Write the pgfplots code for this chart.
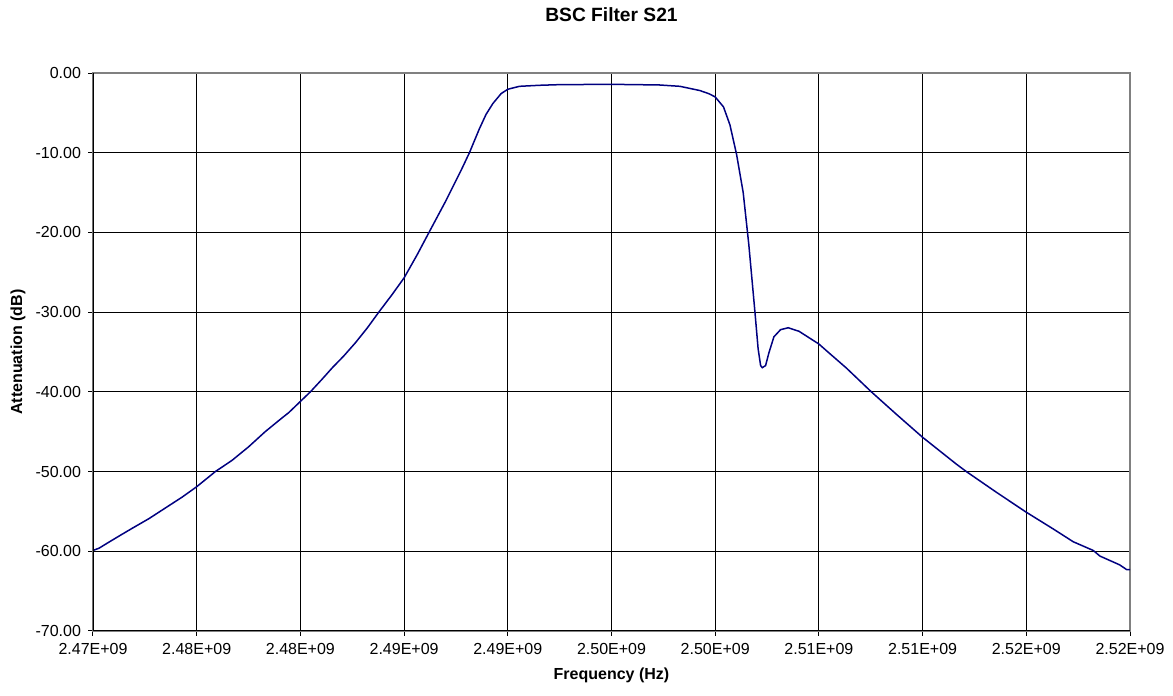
\documentclass[border=0pt]{standalone}
\usepackage{fontspec}
\setmainfont{Liberation Sans}
\usepackage{pgfplots}
\pgfplotsset{compat=1.18}
\definecolor{navy}{HTML}{000080}
\definecolor{plotframe}{HTML}{808080}

\begin{document}
\begin{tikzpicture}
\useasboundingbox (-46.5pt,-32.5pt) rectangle (540pt,315.5pt);
\begin{axis}[
  scale only axis, width=518.5pt, height=279pt,
  xmin=2470, xmax=2520, ymin=-70, ymax=0,
  xtick={2470,2475,...,2520}, ytick={-70,-60,...,0},
  xticklabels={2.47E+09,2.48E+09,2.48E+09,2.49E+09,2.49E+09,2.50E+09,2.50E+09,2.51E+09,2.51E+09,2.52E+09,2.52E+09},
  yticklabels={-70.00,-60.00,-50.00,-40.00,-30.00,-20.00,-10.00,0.00},
  grid=major, major grid style={black, line width=0.5pt},
  axis line style={plotframe, line width=0.6pt},
  tick align=outside, tick style={black, line width=0.5pt}, major tick length=2.5pt,
  xtick pos=left, ytick pos=left,
  ticklabel style={font=\fontsize{8}{9.6}\selectfont},
  title={BSC Filter S21},
  title style={font=\fontsize{9.6}{11}\selectfont\bfseries, at={(axis description cs:0.5,1)}, anchor=center, yshift=23pt},
  xlabel={Frequency (Hz)},
  xlabel style={font=\fontsize{8}{9.6}\selectfont\bfseries, at={(axis description cs:0.5,0)}, anchor=center, yshift=-22pt},
  ylabel={Attenuation (dB)},
  ylabel style={font=\fontsize{8}{9.6}\selectfont\bfseries, at={(axis description cs:-0.0723,0.5)}, anchor=center},
]
\addplot[navy, line width=0.75pt] coordinates {
(2470.0,-59.9) (2470.3,-59.6) (2470.8,-58.8) (2471.25,-58.1) (2471.9,-57.1)
(2472.7,-55.9) (2473.5,-54.55) (2474.3,-53.2) (2475.0,-51.9) (2475.9,-50.0)
(2476.7,-48.6) (2477.5,-46.9) (2478.3,-45.0) (2479.1,-43.3) (2479.44,-42.6)
(2480.0,-41.2) (2480.48,-40.0) (2481.05,-38.4) (2481.53,-37.0) (2482.09,-35.5)
(2482.65,-33.85) (2483.22,-32.0) (2483.78,-30.0) (2484.42,-27.8) (2485.0,-25.7)
(2485.63,-22.8) (2486.2,-20.0) (2487.0,-16.1) (2487.75,-12.2) (2488.15,-10.0)
(2488.63,-7.0) (2488.95,-5.2) (2489.28,-3.83) (2489.68,-2.58) (2490.0,-2.04)
(2490.56,-1.67) (2491.53,-1.54) (2492.5,-1.46) (2495.0,-1.42) (2497.3,-1.5)
(2498.3,-1.67) (2499.26,-2.2) (2499.7,-2.6) (2500.0,-3.0) (2500.4,-4.25)
(2500.71,-6.5) (2501.03,-10.2) (2501.35,-15.0) (2501.62,-21.5) (2501.91,-29.8)
(2502.07,-34.6) (2502.19,-36.7) (2502.27,-36.97) (2502.43,-36.7) (2502.59,-35.1)
(2502.83,-33.1) (2503.15,-32.2) (2503.52,-31.96) (2504.04,-32.4) (2505.0,-34.0)
(2505.48,-35.1) (2506.32,-37.0) (2507.53,-40.0) (2508.73,-42.8) (2510.0,-45.7)
(2511.63,-49.07) (2512.11,-50.0) (2513.56,-52.6) (2515.0,-55.1) (2516.3,-57.2)
(2517.26,-58.8) (2518.23,-59.9) (2518.55,-60.6) (2519.5,-61.7) (2519.84,-62.3)
(2520.0,-62.3)
};
\draw[black, line width=0.6pt] (rel axis cs:0,1) -- (rel axis cs:0,0) -- (rel axis cs:1,0);
\end{axis}
\end{tikzpicture}
\end{document}
